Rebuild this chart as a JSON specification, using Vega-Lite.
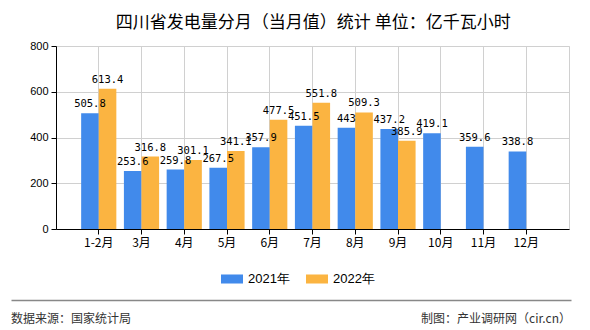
{
  "$schema": "https://vega.github.io/schema/vega-lite/v6.json",
  "background": "white",
  "padding": {"left": 10, "top": 13, "right": 20, "bottom": 0},
  "title": {"text": "四川省发电量分月（当月值）统计 单位：亿千瓦小时", "font": "Noto Sans CJK SC", "fontSize": 17, "fontWeight": "normal", "color": "#000", "anchor": "middle", "offset": 8},
  "spacing": 13,
  "resolve": {"scale": {"color": "independent"}, "legend": {"color": "independent"}},
  "config": {"axis": {"labelColor": "#000", "domainColor": "#000", "tickColor": "#000", "gridColor": "#d0d0d0", "tickSize": 5}},
  "vconcat": [
    {
      "width": 513,
      "height": 183,
      "view": {"stroke": "#d0d0d0"},
      "data": {"values": [
        {"month": "1-2月", "year": "2021年", "value": 505.8},
        {"month": "3月", "year": "2021年", "value": 253.6},
        {"month": "4月", "year": "2021年", "value": 259.8},
        {"month": "5月", "year": "2021年", "value": 267.5},
        {"month": "6月", "year": "2021年", "value": 357.9},
        {"month": "7月", "year": "2021年", "value": 451.5},
        {"month": "8月", "year": "2021年", "value": 443},
        {"month": "9月", "year": "2021年", "value": 437.2},
        {"month": "10月", "year": "2021年", "value": 419.1},
        {"month": "11月", "year": "2021年", "value": 359.6},
        {"month": "12月", "year": "2021年", "value": 338.8},
        {"month": "1-2月", "year": "2022年", "value": 613.4},
        {"month": "3月", "year": "2022年", "value": 316.8},
        {"month": "4月", "year": "2022年", "value": 301.1},
        {"month": "5月", "year": "2022年", "value": 341.1},
        {"month": "6月", "year": "2022年", "value": 477.5},
        {"month": "7月", "year": "2022年", "value": 551.8},
        {"month": "8月", "year": "2022年", "value": 509.3},
        {"month": "9月", "year": "2022年", "value": 385.9}
      ]},
      "encoding": {
        "x": {"field": "month", "type": "nominal",
          "sort": ["1-2月", "3月", "4月", "5月", "6月", "7月", "8月", "9月", "10月", "11月", "12月"],
          "scale": {"paddingInner": 0, "paddingOuter": 0.5},
          "axis": {"title": null, "labelAngle": 0, "labelFont": "Noto Sans CJK SC", "labelFontSize": 12, "labelPadding": 3, "bandPosition": 0.5, "grid": true}},
        "xOffset": {"field": "year", "type": "nominal", "scale": {"paddingInner": 0, "paddingOuter": 0.215}},
        "y": {"field": "value", "type": "quantitative",
          "scale": {"domain": [0, 800], "nice": false},
          "axis": {"title": null, "values": [0, 200, 400, 600, 800], "labelFont": "Liberation Sans", "labelFontSize": 11, "labelPadding": 3, "minExtent": 45, "grid": true}}
      },
      "layer": [
        {
          "mark": {"type": "bar"},
          "encoding": {
            "color": {"field": "year", "type": "nominal",
              "scale": {"domain": ["2021年", "2022年"], "range": ["#418AEB", "#FBB441"]},
              "legend": {"title": null, "orient": "none", "legendX": 165, "legendY": 222, "direction": "horizontal",
                "symbolType": "M-1,-0.41H1V0.41H-1Z", "symbolSize": 484, "symbolStrokeWidth": 0,
                "labelFont": "Liberation Sans", "labelFontSize": 13, "labelColor": "#000", "labelOffset": 5, "columnPadding": 16}}
          }
        },
        {
          "mark": {"type": "text", "baseline": "bottom", "dy": -4, "font": "DejaVu Sans Mono", "fontSize": 10.5, "color": "#000"},
          "encoding": {"text": {"field": "value", "type": "quantitative", "format": ".1~f"}}
        }
      ]
    },
    {
      "width": 513,
      "height": 38,
      "view": {"stroke": null},
      "data": {"values": [
        {"side": "left", "label": "数据来源：国家统计局", "pos": 0},
        {"side": "right", "label": "制图：产业调研网（cir.cn）", "pos": 1}
      ]},
      "encoding": {
        "x": {"field": "pos", "type": "quantitative", "scale": {"domain": [0, 1], "nice": false, "range": [-45, 515]},
          "axis": {"orient": "top", "labels": false, "ticks": false, "grid": false, "title": null, "domainColor": "#888", "domainWidth": 1.5}}
      },
      "layer": [
        {
          "transform": [{"filter": "datum.side === 'left'"}],
          "mark": {"type": "text", "align": "left", "font": "Noto Sans CJK SC", "fontSize": 12, "color": "#333"},
          "encoding": {"text": {"field": "label"}}
        },
        {
          "transform": [{"filter": "datum.side === 'right'"}],
          "mark": {"type": "text", "align": "right", "font": "Noto Sans CJK SC", "fontSize": 12, "color": "#333"},
          "encoding": {"text": {"field": "label"}}
        }
      ]
    }
  ]
}
